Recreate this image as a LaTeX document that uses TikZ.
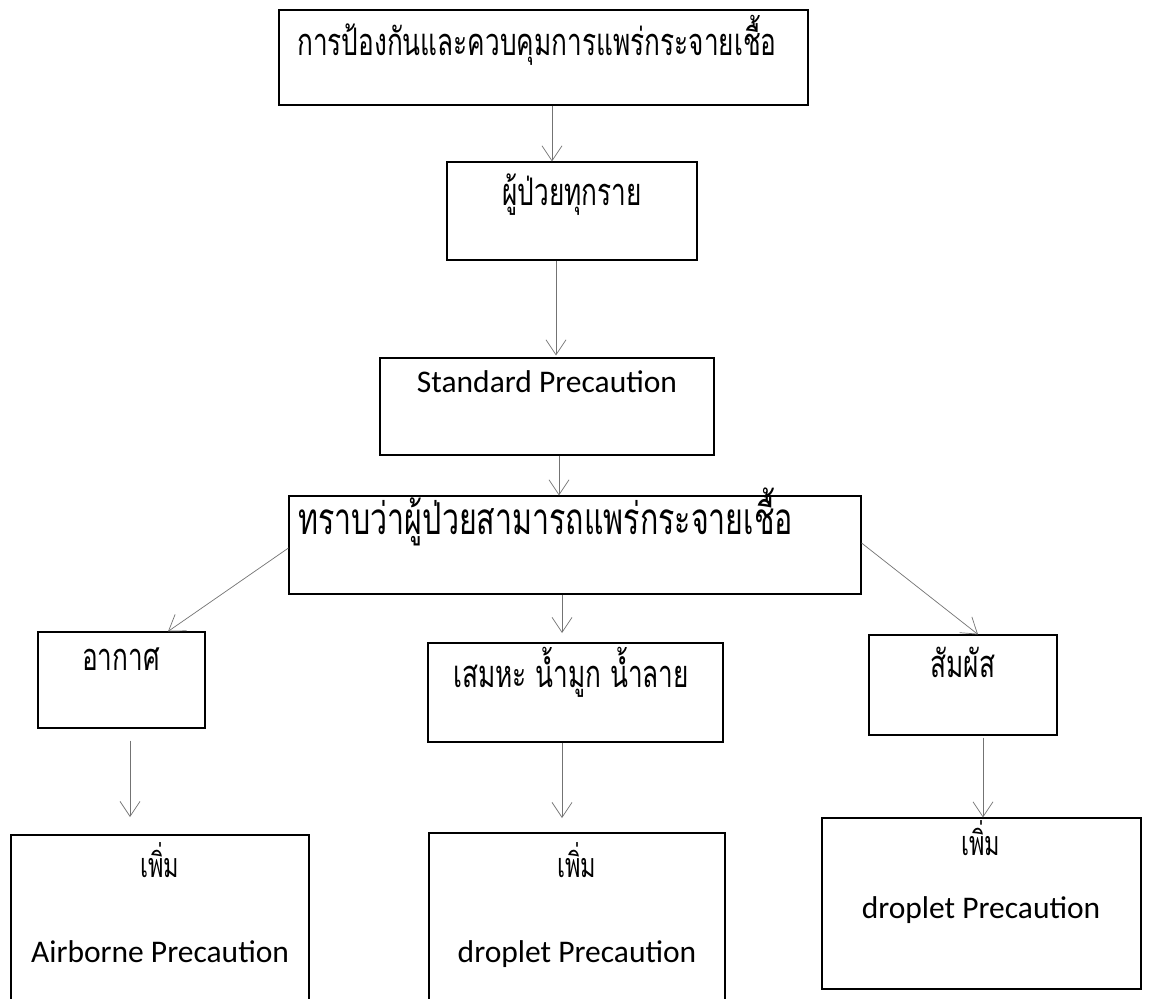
\documentclass[tikz,border=0pt]{standalone}
\usepackage{fontspec}
\setmainfont{Carlito}
\newfontfamily\thaifont[Script=Thai, FakeStretch=0.69]{Loma}
\usetikzlibrary{arrows.meta,fit}

\tikzset{
  box/.style={draw=black, line width=1.1pt, inner sep=0pt, rectangle},
  thaitxt/.style={font=\thaifont\fontsize{38}{40}\selectfont, inner sep=0pt},
  thaibig/.style={font=\thaifont\fontsize{44}{46}\selectfont, inner sep=0pt},
  thaismall/.style={font=\thaifont\fontsize{34}{36}\selectfont, inner sep=0pt},
  lattxt/.style={font=\fontsize{31.5}{33}\selectfont, inner sep=0pt},
  conn/.style={draw=black!55, line width=0.7pt, -{Straight Barb[length=15pt,width=20pt]}},
}

\begin{document}
\begin{tikzpicture}[x=1pt,y=-1pt]
  \clip (0,0) rectangle (1149,999);
  \fill[white] (0,0) rectangle (1149,999);

  % boxes
  \node[box, fit={(279,10) (808,105)}] (A) {};
  \node[box, fit={(447,162) (697,260)}] (B) {};
  \node[box, fit={(380,358) (714,455)}] (C) {};
  \node[box, fit={(289,496) (861,594)}] (D) {};
  \node[box, fit={(38,632) (205,728)}] (E) {};
  \node[box, fit={(428,643) (723,742)}] (F) {};
  \node[box, fit={(869,635) (1057,735)}] (G) {};
  \node[box, fit={(11,835) (309,1010)}] (H1) {};
  \node[box, fit={(429,833) (725,1010)}] (H2) {};
  \node[box, fit={(822,818) (1141,989)}] (H3) {};

  % labels
  \node[thaitxt, anchor=base west] (At) at (297,55) {การป้องกันและควบคุมการแพร่กระจายเชื้อ};
  \node[thaitxt, anchor=base] (Bt) at (572,205) {ผู้ป่วยทุกราย};
  \node[lattxt, anchor=base] (Ct) at (547,392) {Standard Precaution};
  \node[thaibig, anchor=base west] (Dt) at (298,534) {ทราบว่าผู้ป่วยสามารถแพร่กระจายเชื้อ};
  \node[thaitxt, anchor=base] (Et) at (121,670) {อากาศ};
  \node[thaitxt, anchor=base] (Ft) at (571,687) {เสมหะ น้ำมูก น้ำลาย};
  \node[thaitxt, anchor=base] (Gt) at (963,677) {สัมผัส};
  \node[thaismall, anchor=base] (H1a) at (160,877) {เพิ่ม};
  \node[lattxt, anchor=base] (H1b) at (160,962) {Airborne Precaution};
  \node[thaismall, anchor=base] (H2a) at (577,877) {เพิ่ม};
  \node[lattxt, anchor=base] (H2b) at (577,962) {droplet Precaution};
  \node[thaismall, anchor=base] (H3a) at (981,855) {เพิ่ม};
  \node[lattxt, anchor=base] (H3b) at (981,918) {droplet Precaution};

  % connector positions
  \coordinate (ab) at (552,0);
  \coordinate (bc) at (556,0);
  \coordinate (cd) at (559,0);
  \coordinate (dl) at (0,548);
  \coordinate (el) at (168,0);
  \coordinate (dm) at (562,0);
  \coordinate (fm) at (562,633);
  \coordinate (dr) at (0,543);
  \coordinate (gr) at (978,0);
  \coordinate (eh) at (130,817);
  \coordinate (fh) at (562,818);
  \coordinate (gh) at (983,0);

  % connectors
  \draw[conn] (A.south -| ab) -- (B.north -| ab);
  \draw[conn] (B.south -| bc) -- ([yshift=2pt]C.north -| bc);
  \draw[conn] (C.south -| cd) -- (D.north -| cd);
  \draw[conn] (D.west |- dl) -- (E.north -| el);
  \draw[conn] (D.south -| dm) -- (fm);
  \draw[conn] (D.east |- dr) -- (G.north -| gr);
  \draw[conn] ([yshift=-12pt]E.south -| eh) -- (eh);
  \draw[conn] (F.south -| fh) -- (fh);
  \draw[conn] ([yshift=-2pt]G.south -| gh) -- (H3.north -| gh);
\end{tikzpicture}
\end{document}
